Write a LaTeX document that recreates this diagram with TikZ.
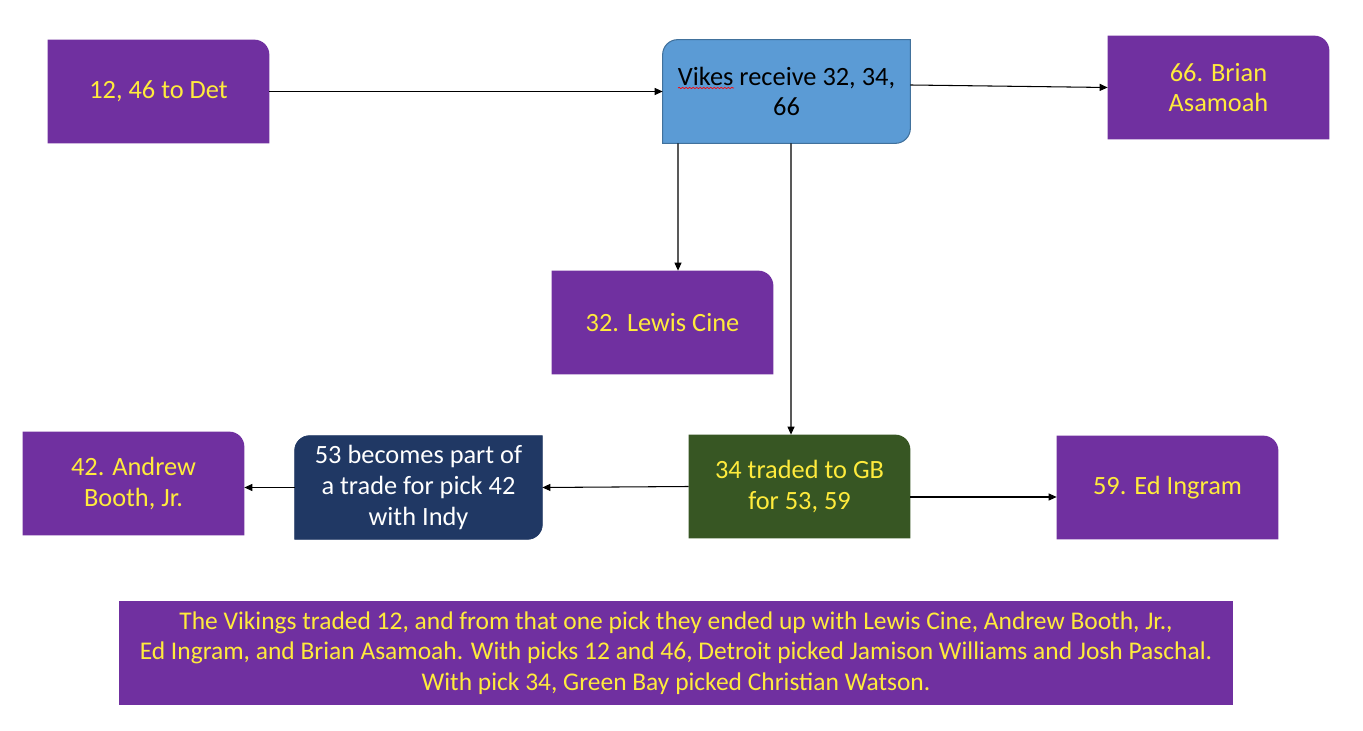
\documentclass[tikz,border=0pt]{standalone}
\usepackage{fontspec}
\setmainfont{Carlito}
\usetikzlibrary{arrows.meta,backgrounds,decorations.pathmorphing}
\definecolor{vpurple}{HTML}{7030A0}
\definecolor{vblue}{HTML}{5B9BD5}
\definecolor{vblueline}{HTML}{41719C}
\definecolor{vnavy}{HTML}{203864}
\definecolor{vgreen}{HTML}{375623}
\definecolor{vyellow}{HTML}{FFEB3C}
\tikzset{
  pick/.style={minimum width=4.42cm, minimum height=2.06cm, align=center,
    inner sep=2pt, text=vyellow, font=\fontsize{15}{17.4}\selectfont},
  wide/.style={pick, minimum width=4.94cm},
  arr/.style={-{Triangle[length=1.6mm,width=1.4mm]}, line width=0.6pt},
}
% one rounded corner (top right)
\newcommand\cornerTR[2]{%
  \fill[#2] (#1.south west) -- (#1.north west) -- ([xshift=-0.3cm]#1.north east)
    arc[start angle=90, end angle=0, radius=0.3cm] -- (#1.south east) -- cycle;}
% two rounded corners (top left, bottom right)
\newcommand\cornerDiag[2]{%
  \filldraw[#2] (#1.south west) -- ([yshift=-0.3cm]#1.north west)
    arc[start angle=180, end angle=90, radius=0.3cm] -- (#1.north east)
    -- ([yshift=0.3cm]#1.south east)
    arc[start angle=0, end angle=-90, radius=0.3cm] -- cycle;}
\begin{document}
\begin{tikzpicture}
\useasboundingbox (0,0) rectangle (27.26,-14.62);
% top row
\node[pick] (det) at (3.17,-1.83) {12, 46 to Det};
\node[wide, text=black] (vikes) at (15.73,-1.83) {Vikes receive 32, 34,\\66};
\node[pick] (asamoah) at (24.37,-1.75) {66. Brian\\Asamoah};
% middle
\node[pick] (cine) at (13.25,-6.45) {32. Lewis Cine};
% bottom row
\node[pick] (booth) at (2.67,-9.67) {42. Andrew\\Booth, Jr.};
\node[wide, text=white] (indy) at (8.37,-9.75) {53 becomes part of\\a trade for pick 42\\with Indy};
\node[pick] (gb) at (15.99,-9.73) {34 traded to GB\\for 53, 59};
\node[pick] (ingram) at (23.35,-9.75) {59. Ed Ingram};
% summary
\node[pick, minimum width=22.28cm, minimum height=2.08cm, fill=vpurple,
  font=\fontsize{14.5}{17.5}\selectfont] (summary) at (13.52,-13.06)
  {The Vikings traded 12, and from that one pick they ended up with Lewis Cine, Andrew Booth, Jr.,\\
   Ed Ingram, and Brian Asamoah. With picks 12 and 46, Detroit picked Jamison Williams and Josh Paschal.\\
   With pick 34, Green Bay picked Christian Watson.};
% box shapes
\begin{scope}[on background layer]
\cornerTR{det}{vpurple}
\cornerTR{asamoah}{vpurple}
\cornerTR{cine}{vpurple}
\cornerTR{booth}{vpurple}
\cornerTR{gb}{vgreen}
\cornerTR{ingram}{vpurple}
\cornerDiag{vikes}{fill=vblue, draw=vblueline, line width=0.6pt}
\cornerDiag{indy}{fill=vnavy, draw=vnavy}
\end{scope}
% spell check mark
\draw[red, line width=0.4pt, decorate, decoration={snake, amplitude=0.35pt, segment length=2pt}]
  ([xshift=-2.17cm, yshift=0.07cm]vikes.center) -- ([xshift=-1.05cm, yshift=0.07cm]vikes.center);
% arrows
\draw[arr] (det.east) -- (vikes.west);
\draw[arr] ([yshift=0.13cm]vikes.east) -- (asamoah.west);
\draw[arr] ([xshift=-2.17cm]vikes.south) -- ([xshift=0.31cm]cine.north);
\draw[arr] ([xshift=0.09cm]vikes.south) -- ([xshift=-0.17cm]gb.north);
\draw[arr] (gb.west) -- (indy.east);
\draw[arr] (indy.west) -- (indy.west -| booth.east);
\draw[arr] ([yshift=-0.21cm]gb.east) -- ([yshift=-0.19cm]ingram.west);
\end{tikzpicture}
\end{document}
